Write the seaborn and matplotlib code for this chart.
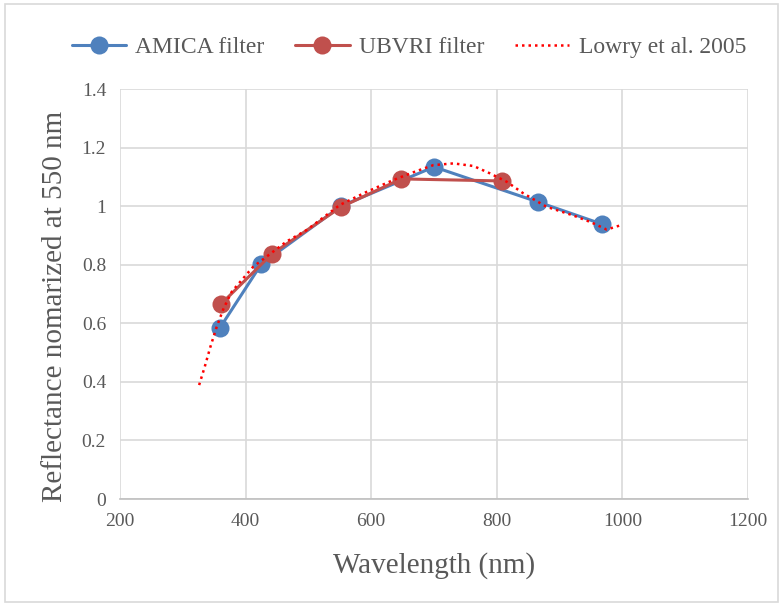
import matplotlib
matplotlib.use("Agg")
import matplotlib.pyplot as plt
import seaborn as sns
import pandas as pd
from matplotlib.patches import Rectangle

amica_wl = [359, 425, 552, 700, 866, 967]
amica_refl = [0.584, 0.802, 1.0, 1.134, 1.014, 0.939]

ubvri_wl = [361, 442, 552, 648, 808]
ubvri_refl = [0.666, 0.837, 0.997, 1.093, 1.086]

lowry_wl = [326, 335, 344, 354, 365, 378, 394, 412, 433, 465, 497, 550, 593,
            635, 670, 699, 731, 763, 789, 816, 842, 879, 922, 950, 975, 999]
lowry_refl = [0.389, 0.452, 0.520, 0.588, 0.651, 0.708, 0.748, 0.793, 0.827,
              0.879, 0.918, 1.004, 1.049, 1.089, 1.118, 1.140, 1.146, 1.137,
              1.112, 1.083, 1.044, 0.998, 0.968, 0.945, 0.920, 0.936]

sns.set_theme(style="whitegrid")
plt.rcParams['font.family'] = ['Liberation Serif', 'DejaVu Serif']
text_color = '#595959'

fig = plt.figure(figsize=(7.84, 6.05), dpi=100)
ax = fig.add_axes([120/784, 1-499/605, (748-120)/784, (499-89)/605])

df_a = pd.DataFrame({"wl": amica_wl, "r": amica_refl})
df_u = pd.DataFrame({"wl": ubvri_wl, "r": ubvri_refl})
df_l = pd.DataFrame({"wl": lowry_wl, "r": lowry_refl})

sns.lineplot(data=df_a, x="wl", y="r", ax=ax, color='#4f81bd', marker='o',
             markersize=13, markeredgewidth=0, linewidth=2.2, sort=False,
             label='AMICA filter', zorder=3)
sns.lineplot(data=df_u, x="wl", y="r", ax=ax, color='#c0504d', marker='o',
             markersize=13, markeredgewidth=0, linewidth=2.2, sort=False,
             label='UBVRI filter', zorder=4)
sns.lineplot(data=df_l, x="wl", y="r", ax=ax, color='#ff0000', linestyle=(0, (1, 1.6)),
             linewidth=1.8, sort=False, label='Lowry et al. 2005', zorder=5)

ax.set_xlim(200, 1200)
ax.set_ylim(0, 1.4)
ax.set_xticks([200, 400, 600, 800, 1000, 1200])
ax.set_yticks([0, 0.2, 0.4, 0.6, 0.8, 1.0, 1.2, 1.4])
ax.set_yticklabels(['0', '0.2', '0.4', '0.6', '0.8', '1', '1.2', '1.4'])
ax.tick_params(axis='both', labelsize=14, colors=text_color, length=0, pad=10)
ax.grid(True, color='#d9d9d9', linewidth=1.2)
for s in ['top', 'right', 'left']:
    ax.spines[s].set_visible(False)
ax.spines['bottom'].set_color('#bfbfbf')
ax.spines['bottom'].set_linewidth(1.2)

ax.set_xlabel('Wavelength (nm)', fontsize=21, color=text_color, labelpad=16)
ax.set_ylabel('Reflectance nomarized at 550 nm', fontsize=21, color=text_color, labelpad=10)
ax.yaxis.set_label_coords(-0.083, 0.47)

ax.legend(loc='upper center', bbox_to_anchor=(0.46, 1.18), ncol=3, frameon=False,
          fontsize=17, labelcolor=text_color, handlelength=2.3, columnspacing=1.3,
          handletextpad=0.4)

fig.patches.append(Rectangle((5/784, 3/605), 773/784, 598/605, transform=fig.transFigure,
                             fill=False, edgecolor='#d9d9d9', linewidth=1.2))

fig.savefig('out.png', dpi=100)
